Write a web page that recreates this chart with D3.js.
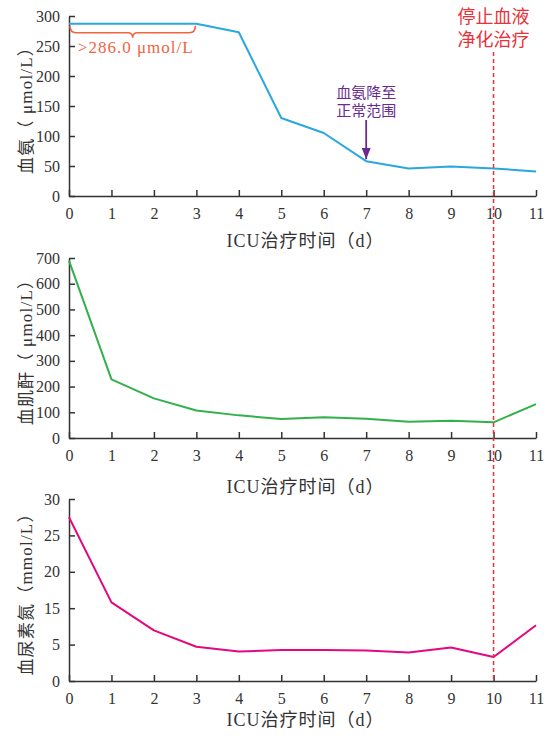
<!DOCTYPE html>
<html>
<head>
<meta charset="utf-8">
<script src="https://cdn.jsdelivr.net/npm/d3@7"></script>
<style>
  html, body { margin: 0; padding: 0; background: #fff; }
  svg { display: block; }
  .axis text { font-family: "Liberation Serif", "DejaVu Serif", serif; font-size: 16px; fill: #333; }
  .axis path, .axis line { stroke: #333; stroke-width: 1.5; }
  .lbl { font-family: "Liberation Serif", "Noto Sans CJK SC", serif; fill: #333; }
</style>
</head>
<body>
<div id="chart"></div>
<script>
const days= [0, 1, 2, 3, 4, 5, 6, 7, 8, 9, 10, 11];
const ammonia= [287, 287, 287, 287, 273, 130, 105, 58, 46, 49, 46, 41];
const creatinine= [690, 228, 154, 107, 88, 74, 81, 75, 63, 67, 61, 132];
const urea= [27.5, 15.8, 8.9, 4.7, 4.05, 4.25, 4.25, 4.2, 3.9, 4.6, 3.3, 10.3];

const ammoniaTicks= [0, 50, 100, 150, 200, 250, 300];
const creatTicks= [0, 100, 200, 300, 400, 500, 600, 700];
const ureaTicks= [0, 5, 15, 20, 25, 30];

const W= 546, H= 737;
const X0= 69, X1= 536;

const panels= [
  { data: ammonia, ticks: ammoniaTicks, top: 16, bottom: 196, color: '#2aa7df',
    ylabel: '血氨（ μmol/L）', xlabelY: 241 },
  { data: creatinine, ticks: creatTicks, top: 258, bottom: 438, color: '#32b04a',
    ylabel: '血肌酐（ μmol/L）', xlabelY: 487 },
  { data: urea, ticks: ureaTicks, top: 499, bottom: 681, color: '#e4087f',
    ylabel: '血尿素氮（mmol/L）', xlabelY: 720 },
];

const svg= d3.select('#chart').append('svg')
  .attr('width', W).attr('height', H);

const x= d3.scaleLinear().domain([0, 11]).range([X0, X1]);

panels.forEach((p, i) => {
  // y scale: evenly spaced ticks (third panel has an uneven label set)
  const n= p.ticks.length-1;
  const y= d3.scaleLinear()
    .domain(p.ticks)
    .range(p.ticks.map((t, k) => p.bottom-(p.bottom-p.top)*k/n));
  p.y= y;

  const g= svg.append('g');

  g.append('g')
    .attr('class', 'axis')
    .attr('transform', `translate(0,${p.bottom})`)
    .call(d3.axisBottom(x).tickValues(days).tickSizeInner(-6).tickSizeOuter(0).tickPadding(16))
    .call(a => a.selectAll('text').attr('dy', '0.45em'));

  g.append('g')
    .attr('class', 'axis')
    .attr('transform', `translate(${X0},0)`)
    .call(d3.axisLeft(y).tickValues(p.ticks).tickFormat(d3.format('d')).tickSizeInner(-6).tickSizeOuter(0).tickPadding(9));

  g.append('path')
    .datum(p.data)
    .attr('fill', 'none')
    .attr('stroke', p.color)
    .attr('stroke-width', 2)
    .attr('stroke-linejoin', 'round')
    .attr('d', d3.line().x((d, k) => x(days[k])).y(d => y(d)));

  g.append('text')
    .attr('class', 'lbl')
    .attr('x', (X0+X1)/2+3)
    .attr('y', p.xlabelY)
    .attr('text-anchor', 'middle')
    .attr('dominant-baseline', 'central')
    .attr('font-size', 18)
    .attr('letter-spacing', 1)
    .text('ICU治疗时间（d）');

  g.append('text')
    .attr('class', 'lbl')
    .attr('transform', `translate(26,${(p.top+p.bottom)/2}) rotate(-90)`)
    .attr('text-anchor', 'middle')
    .attr('dominant-baseline', 'central')
    .attr('font-size', 17)
    .attr('letter-spacing', 1.2)
    .text(p.ylabel);
});

// stop of blood purification: dashed line at day 10
svg.append('line')
  .attr('x1', x(10)).attr('x2', x(10))
  .attr('y1', 52).attr('y2', panels[2].bottom)
  .attr('stroke', '#e8313a')
  .attr('stroke-width', 1.5)
  .attr('stroke-dasharray', '4,3');

svg.append('text')
  .attr('class', 'lbl')
  .attr('text-anchor', 'middle')
  .attr('font-size', 18)
  .style('fill', '#e8313a')
  .selectAll('tspan')
  .data(['停止血液', '净化治疗'])
  .join('tspan')
  .attr('x', x(10))
  .attr('y', (d, k) => 23+k*23)
  .text(d => d);

// brace over days 0-3
const y1= panels[0].y;
const bx0= x(0)+1, bx1= x(3)-1, bm= (bx0+bx1)/2;
const by= y1(287)+2, bh= 7;
svg.append('path')
  .attr('fill', 'none')
  .attr('stroke', '#f0643f')
  .attr('stroke-width', 1.6)
  .attr('d', `M${bx0},${by} Q${bx0},${by+bh} ${bx0+6},${by+bh}
              L${bm-5},${by+bh} Q${bm},${by+bh} ${bm},${by+bh+5}
              Q${bm},${by+bh} ${bm+5},${by+bh}
              L${bx1-6},${by+bh} Q${bx1},${by+bh} ${bx1},${by}`);

svg.append('text')
  .attr('class', 'lbl')
  .attr('x', bm+3).attr('y', 53)
  .attr('text-anchor', 'middle')
  .attr('font-size', 17)
  .attr('letter-spacing', 1)
  .style('fill', '#f0643f')
  .text('>286.0 μmol/L');

// ammonia back to normal annotation
svg.append('defs').append('marker')
  .attr('id', 'arr')
  .attr('viewBox', '0 -4 10 8')
  .attr('refX', 10).attr('refY', 0)
  .attr('markerWidth', 7).attr('markerHeight', 5)
  .attr('markerUnits', 'strokeWidth')
  .attr('orient', 'auto')
  .append('path')
  .attr('d', 'M0,-4L10,0L0,4Z')
  .attr('fill', '#6a2b90');

svg.append('line')
  .attr('x1', x(7)).attr('x2', x(7))
  .attr('y1', 120).attr('y2', y1(58)-2)
  .attr('stroke', '#6a2b90')
  .attr('stroke-width', 1.8)
  .attr('marker-end', 'url(#arr)');

svg.append('text')
  .attr('class', 'lbl')
  .attr('text-anchor', 'middle')
  .attr('font-size', 15)
  .style('fill', '#6a2b90')
  .selectAll('tspan')
  .data(['血氨降至', '正常范围'])
  .join('tspan')
  .attr('x', x(7))
  .attr('y', (d, k) => 98+k*18)
  .text(d => d);
</script>
</body>
</html>
